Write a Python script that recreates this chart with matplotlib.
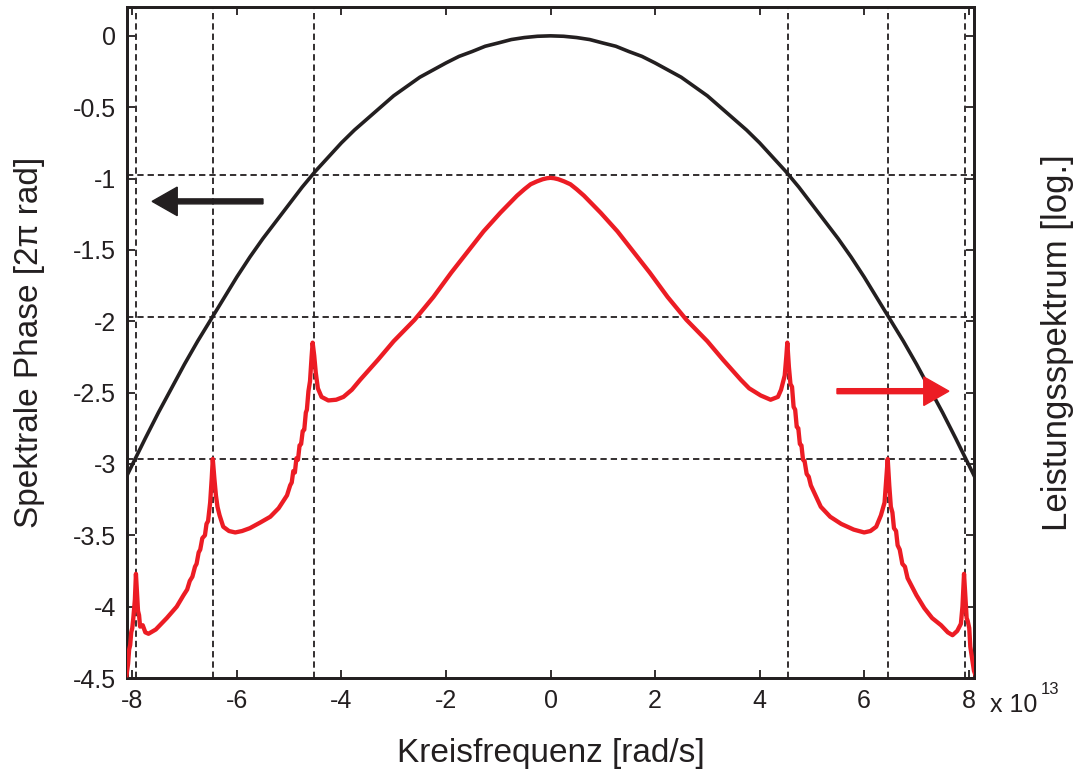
import numpy as np
import matplotlib
matplotlib.use('Agg')
import matplotlib.pyplot as plt

plt.rcParams['font.family'] = ['Liberation Sans', 'DejaVu Sans']

# frequency axis in units of 1e13 rad/s
phase_x = [-8.1, -7.75, -7.5, -7.25, -7.0, -6.75, -6.5, -6.25, -6.0, -5.75, -5.5, -5.25, -5.0,
           -4.75, -4.5, -4.25, -4.0, -3.75, -3.5, -3.25, -3.0, -2.75, -2.5, -2.25, -2.0, -1.75,
           -1.5, -1.25, -1.0, -0.75, -0.5, -0.25, 0.0, 0.25, 0.5, 0.75, 1.0, 1.25, 1.5, 1.75,
           2.0, 2.25, 2.5, 2.75, 3.0, 3.25, 3.5, 3.75, 4.0, 4.25, 4.5, 4.75, 5.0, 5.25, 5.5,
           5.75, 6.0, 6.25, 6.5, 6.75, 7.0, 7.25, 7.5, 7.75, 8.1]
phase_y = [-3.08, -2.82, -2.64, -2.47, -2.30, -2.14, -1.99, -1.84, -1.69, -1.55, -1.42, -1.30, -1.18,
           -1.06, -0.95, -0.85, -0.75, -0.66, -0.58, -0.50, -0.42, -0.355, -0.29, -0.24, -0.19, -0.144,
           -0.11, -0.073, -0.05, -0.026, -0.012, -0.003, 0.0, -0.003, -0.012, -0.026, -0.05, -0.073, -0.11, -0.144,
           -0.19, -0.24, -0.29, -0.355, -0.42, -0.50, -0.58, -0.66, -0.75, -0.85, -0.95, -1.06, -1.18, -1.30, -1.42,
           -1.55, -1.69, -1.84, -1.99, -2.14, -2.30, -2.47, -2.64, -2.82, -3.08]

spec_x = [-8.11, -8.08, -8.06, -8.04, -8.02, -8.00, -7.98, -7.95, -7.93, -7.91, -7.89, -7.87,
          -7.85, -7.80, -7.75, -7.69, -7.55, -7.34, -7.15, -7.02, -6.95, -6.90, -6.85, -6.80,
          -6.77, -6.73, -6.70, -6.66, -6.61, -6.58, -6.55, -6.51, -6.48, -6.46, -6.43, -6.40,
          -6.37, -6.33, -6.26, -6.15, -6.03, -5.90, -5.75, -5.55, -5.36, -5.20, -5.04, -4.98,
          -4.95, -4.92, -4.89, -4.86, -4.83, -4.80, -4.77, -4.74, -4.71, -4.68, -4.66, -4.63,
          -4.60, -4.57, -4.55, -4.52, -4.49, -4.45, -4.38, -4.25, -4.10, -3.96, -3.80, -3.64,
          -3.30, -3.00, -2.60, -2.24, -1.90, -1.60, -1.28, -0.96, -0.80, -0.64, -0.50, -0.38,
          -0.26, -0.15, -0.07, 0.0,
          0.07, 0.15, 0.26, 0.38, 0.50, 0.64, 0.80, 0.96, 1.28, 1.60, 1.90, 2.24, 2.60, 3.00,
          3.30, 3.64, 3.80, 4.02, 4.21, 4.35, 4.41, 4.48, 4.51, 4.53, 4.56, 4.59, 4.62, 4.65,
          4.68, 4.71, 4.74, 4.77, 4.80, 4.83, 4.86, 4.90, 4.94, 4.98, 5.17, 5.35, 5.56, 5.80,
          6.00, 6.12, 6.23, 6.32, 6.39, 6.42, 6.45, 6.48, 6.51, 6.54, 6.57, 6.61, 6.64, 6.68,
          6.73, 6.78, 6.83, 7.00, 7.15, 7.30, 7.47, 7.60, 7.69, 7.78, 7.85, 7.88, 7.91, 7.94,
          7.96, 7.98, 8.01, 8.03, 8.05, 8.08, 8.10, 8.14]
spec_y = [-4.48, -4.40, -4.30, -4.27, -4.18, -4.15, -4.08, -3.95, -3.77, -3.90, -4.03, -4.06,
          -4.14, -4.13, -4.18, -4.19, -4.16, -4.08, -4.00, -3.92, -3.88, -3.82, -3.79, -3.72,
          -3.70, -3.62, -3.60, -3.52, -3.50, -3.42, -3.40, -3.27, -3.10, -2.965, -3.10, -3.22,
          -3.30, -3.36, -3.44, -3.47, -3.48, -3.47, -3.45, -3.41, -3.37, -3.31, -3.22, -3.15,
          -3.13, -3.05, -3.06, -2.96, -2.97, -2.87, -2.86, -2.77, -2.76, -2.64, -2.62, -2.49,
          -2.42, -2.25, -2.15, -2.24, -2.36, -2.47, -2.53, -2.555, -2.55, -2.53, -2.48, -2.41,
          -2.27, -2.14, -1.99, -1.83, -1.66, -1.52, -1.37, -1.24, -1.18, -1.12, -1.075, -1.04,
          -1.02, -1.005, -0.998, -0.995,
          -0.998, -1.005, -1.02, -1.04, -1.075, -1.12, -1.18, -1.24, -1.37, -1.52, -1.66, -1.83, -1.99, -2.14,
          -2.27, -2.41, -2.47, -2.52, -2.55, -2.53, -2.48, -2.38, -2.25, -2.15, -2.32, -2.44, -2.46, -2.60,
          -2.62, -2.74, -2.75, -2.86, -2.87, -2.97, -2.98, -3.07, -3.09, -3.15, -3.30, -3.37, -3.42, -3.46,
          -3.48, -3.47, -3.44, -3.36, -3.27, -3.12, -2.965, -3.15, -3.30, -3.34, -3.45, -3.47, -3.57, -3.60,
          -3.70, -3.72, -3.80, -3.92, -4.01, -4.08, -4.13, -4.18, -4.20, -4.17, -4.12, -4.00, -3.77, -3.95,
          -4.08, -4.10, -4.15, -4.28, -4.33, -4.40, -4.45, -4.49]

grid_x = [-7.93, -6.46, -4.53, 4.54, 6.46, 7.93]
grid_y = [-0.975, -1.97, -2.965]

x_ticks = [-8, -6, -4, -2, 0, 2, 4, 6, 8]
y_ticks = [0, -0.5, -1, -1.5, -2, -2.5, -3, -3.5, -4, -4.5]
y_ticklabels = ['0', '-0.5', '-1', '-1.5', '-2', '-2.5', '-3', '-3.5', '-4', '-4.5']

RED = '#ec1c24'
BLACK = '#231f20'


def style_axis(ax):
    for s in ax.spines.values():
        s.set_linewidth(2.0)
        s.set_color(BLACK)
    ax.tick_params(direction='in', length=6, width=1.3, labelsize=18, colors=BLACK, pad=8)


def main():
    fig = plt.figure(figsize=(10.73, 7.77), dpi=100)
    ax = fig.add_axes([0.1184, 0.1274, 0.7893, 0.8632])
    ax.set_xlim(-8.1, 8.1)
    ax.set_ylim(-4.5, 0.2)

    for gx in grid_x:
        ax.axvline(gx, color=BLACK, lw=1.3, dashes=(3.5, 2.2), zorder=1)
    for gy in grid_y:
        ax.axhline(gy, color=BLACK, lw=1.3, dashes=(3.5, 2.2), zorder=1)

    ax.plot(phase_x, phase_y, color=BLACK, lw=2.6, zorder=3)

    ax.set_xticks(x_ticks)
    ax.set_xticklabels([str(t) for t in x_ticks])
    ax.set_yticks(y_ticks)
    ax.set_yticklabels(y_ticklabels)
    ax.tick_params(top=True)
    style_axis(ax)
    ax.set_xlabel('Kreisfrequenz [rad/s]', fontsize=24, color=BLACK, labelpad=18)
    ax.set_ylabel('Spektrale Phase [2π rad]', fontsize=24, color=BLACK, labelpad=20)

    ax.arrow(-5.5, -1.16, -2.12, 0, width=0.035, head_width=0.2, head_length=0.48,
             length_includes_head=True, color=BLACK, zorder=4)

    ax2 = ax.twinx()
    ax2.set_ylim(ax.get_ylim())
    ax2.set_yticks(y_ticks)
    ax2.set_yticklabels([])
    style_axis(ax2)
    ax2.set_ylabel('Leistungsspektrum [log.]', fontsize=25, color=BLACK, labelpad=40)
    ax2.plot(spec_x, spec_y, color=RED, lw=3.1, zorder=3, clip_on=True)
    ax2.arrow(5.48, -2.49, 2.14, 0, width=0.035, head_width=0.2, head_length=0.48,
              length_includes_head=True, color=RED, zorder=4)

    fig.text(0.923, 0.093, 'x 10', fontsize=18, color=BLACK, va='center', ha='left')
    fig.text(0.970, 0.112, '13', fontsize=12, color=BLACK, va='center', ha='left')

    fig.savefig('out.png', dpi=100)


if __name__ == '__main__':
    main()
